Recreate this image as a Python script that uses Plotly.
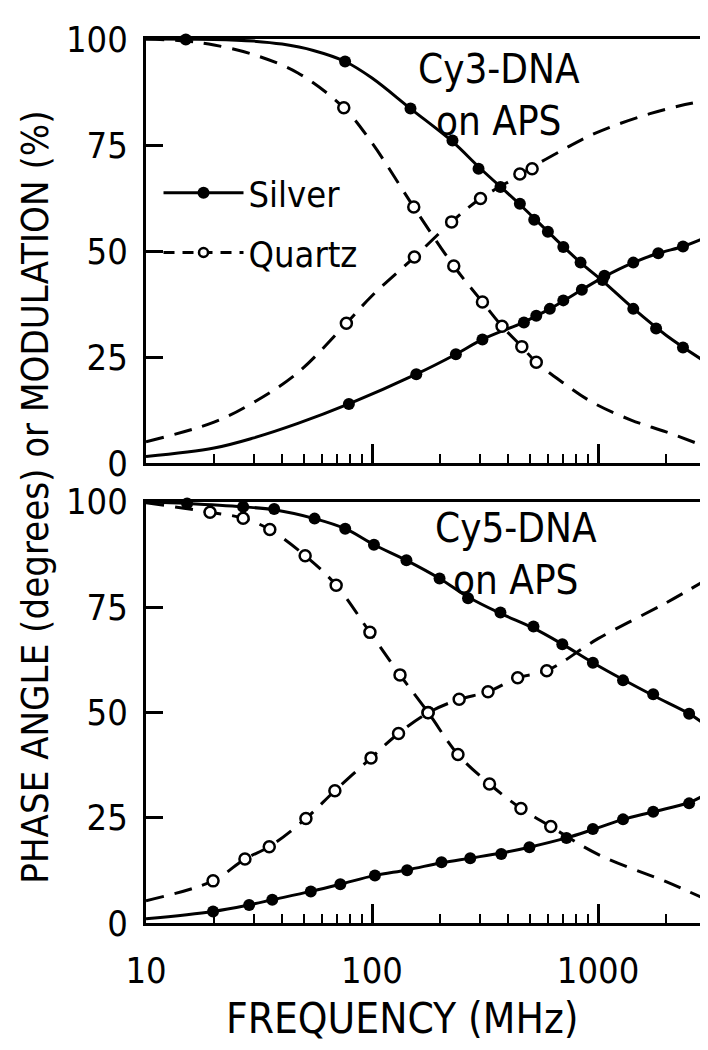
import plotly.graph_objects as go

# ---------------- data ----------------
tick_vals = [10, 100, 1000]
tick_text = ["10", "100", "1000"]
minor_vals = [20, 30, 40, 50, 60, 70, 80, 90, 200, 300, 400, 500, 600, 700, 800, 900, 2000]
y_ticks = [0, 25, 50, 75, 100]

# Top panel: Cy3-DNA on APS
cy3_silver_mod_f = [15, 76, 148, 227, 296, 370, 451, 522, 600, 702, 837, 1047, 1432, 1807, 2376]
cy3_silver_mod_v = [99.9, 94.7, 83.6, 76.1, 69.4, 65.1, 61.2, 57.4, 54.6, 51.0, 47.3, 43.2, 36.4, 31.8, 27.3]
cy3_silver_mod_cf = [10, 20, 30, 40, 55, 76, 100, 148, 227, 300, 451, 600, 837, 1047, 1432, 2000, 2870]
cy3_silver_mod_cv = [100, 99.9, 99.5, 98.8, 97.3, 94.7, 90.8, 83.6, 75.8, 69.6, 61.0, 54.6, 47.3, 43.0, 36.5, 30.2, 24.5]

cy3_silver_ph_f = [79, 157, 235, 308, 470, 533, 612, 702, 848, 1067, 1432, 1847, 2376]
cy3_silver_ph_v = [14.0, 21.0, 25.7, 29.2, 33.2, 34.8, 36.4, 38.4, 40.9, 44.2, 47.3, 49.5, 51.1]
cy3_silver_ph_cf = [10, 20, 30, 47, 79, 157, 235, 308, 470, 612, 848, 1067, 1432, 1847, 2376, 2870]
cy3_silver_ph_cv = [1.6, 3.6, 6.0, 9.4, 14.0, 21.0, 25.7, 29.2, 33.3, 36.4, 40.9, 44.0, 47.3, 49.5, 51.1, 52.8]

cy3_quartz_mod_f = [75, 153, 230, 308, 376, 460, 533]
cy3_quartz_mod_v = [83.8, 60.4, 46.5, 38.0, 32.3, 27.5, 23.8]
cy3_quartz_mod_cf = [10, 15, 20, 30, 47, 75, 100, 153, 230, 308, 376, 460, 533, 700, 942, 1400, 2000, 2870]
cy3_quartz_mod_cv = [100, 99.5, 98.6, 96.3, 92.0, 83.8, 75.5, 60.4, 46.5, 38.0, 32.3, 27.5, 23.8, 19.0, 14.4, 10.2, 7.4, 4.3]

cy3_quartz_ph_f = [77, 154, 225, 302, 451, 511]
cy3_quartz_ph_v = [33.0, 48.6, 56.9, 62.4, 68.2, 69.4]
cy3_quartz_ph_cf = [10, 20, 30, 47, 77, 100, 154, 225, 302, 451, 511, 700, 902, 1211, 1698, 2277, 2870]
cy3_quartz_ph_cv = [5.1, 9.7, 14.4, 21.4, 33.0, 39.5, 48.6, 56.9, 62.4, 67.9, 69.8, 73.9, 77.0, 79.8, 82.4, 84.2, 85.3]

# Bottom panel: Cy5-DNA on APS
cy5_silver_mod_f = [15.2, 26.9, 36.9, 55.7, 76.1, 102, 142, 199, 266, 370, 518, 695, 949, 1290, 1754, 2529]
cy5_silver_mod_v = [99.6, 98.8, 98.3, 96.0, 93.6, 89.8, 86.1, 81.8, 77.1, 73.7, 70.4, 66.2, 61.8, 57.6, 54.3, 49.7]
cy5_silver_mod_cf = [10, 15.2, 26.9, 36.9, 55.7, 76.1, 102, 142, 199, 266, 370, 518, 695, 949, 1290, 1754, 2529, 2870]
cy5_silver_mod_cv = [100, 99.6, 98.8, 98.1, 96.0, 93.6, 89.8, 86.1, 81.8, 77.4, 73.5, 70.0, 66.2, 61.8, 57.8, 54.0, 49.7, 47.7]

cy5_silver_ph_f = [19.8, 28.6, 36.2, 53.6, 72.4, 103, 143, 203, 272, 373, 497, 725, 949, 1290, 1754, 2529]
cy5_silver_ph_v = [2.75, 4.3, 5.5, 7.5, 9.2, 11.3, 12.5, 14.4, 15.4, 16.4, 18.0, 20.2, 22.3, 24.6, 26.4, 28.4]
cy5_silver_ph_cf = [10, 19.8, 28.6, 36.2, 53.6, 72.4, 103, 143, 203, 272, 373, 497, 725, 949, 1290, 1754, 2529, 2870]
cy5_silver_ph_cv = [1.0, 2.75, 4.3, 5.5, 7.5, 9.2, 11.3, 12.6, 14.3, 15.4, 16.6, 18.0, 20.2, 22.2, 24.6, 26.4, 28.6, 30.0]

cy5_quartz_mod_f = [19.2, 26.9, 35.3, 50.6, 69.4, 97.9, 133, 177, 240, 331, 456, 618]
cy5_quartz_mod_v = [97.5, 96.1, 93.4, 87.2, 80.2, 69.0, 58.9, 50.0, 40.0, 33.0, 27.2, 22.9]
cy5_quartz_mod_cf = [10, 19.2, 26.9, 35.3, 50.6, 69.4, 97.9, 133, 177, 240, 331, 456, 618, 1000, 2000, 2870]
cy5_quartz_mod_cv = [99.8, 97.5, 96.1, 93.4, 87.2, 80.2, 69.0, 58.9, 50.0, 40.0, 33.0, 27.2, 22.9, 16.3, 9.8, 6.1]

cy5_quartz_ph_f = [19.8, 27.4, 35.1, 51, 68.5, 99, 131, 177, 243, 326, 441, 593]
cy5_quartz_ph_v = [10.0, 15.2, 18.1, 24.8, 31.4, 39.2, 45.0, 49.9, 53.1, 54.9, 58.2, 59.9]
cy5_quartz_ph_cf = [10, 19.8, 27.4, 35.1, 51, 68.5, 99, 131, 177, 243, 326, 441, 593, 1000, 2000, 2870]
cy5_quartz_ph_cv = [5.3, 10.0, 15.2, 18.1, 24.8, 31.4, 39.2, 45.0, 49.9, 53.1, 54.9, 58.2, 59.9, 67.5, 76.0, 80.8]

legend_names = ["Silver", "Quartz"]
panel_labels = ["Cy3-DNA<br>on APS", "Cy5-DNA<br>on APS"]
x_title = "FREQUENCY (MHz)"
y_title = "PHASE ANGLE (degrees) or MODULATION (%)"

# ---------------- styling ----------------
FONT = "Liberation Sans Narrow, DejaVu Sans Condensed, Roboto Condensed, Liberation Sans, Arial, sans-serif"
BLACK = "#000000"
LW = 3
DASH = "18px,11px"

fig = go.Figure()

def add_series(xa, ya, cf, cv, pf, pv, solid):
    fig.add_trace(go.Scatter(
        x=cf, y=cv, mode="lines", xaxis=xa, yaxis=ya, showlegend=False,
        line=dict(color=BLACK, width=LW, dash="solid" if solid else DASH, shape="spline", smoothing=1.0),
        hoverinfo="skip"))
    if solid:
        marker = dict(symbol="circle", size=12, color=BLACK, line=dict(width=0))
    else:
        marker = dict(symbol="circle", size=11, color="white", line=dict(color=BLACK, width=2.5))
    fig.add_trace(go.Scatter(
        x=pf, y=pv, mode="markers", xaxis=xa, yaxis=ya, showlegend=False,
        marker=marker, cliponaxis=False))

# top panel
add_series("x", "y", cy3_silver_mod_cf, cy3_silver_mod_cv, cy3_silver_mod_f, cy3_silver_mod_v, True)
add_series("x", "y", cy3_silver_ph_cf, cy3_silver_ph_cv, cy3_silver_ph_f, cy3_silver_ph_v, True)
add_series("x", "y", cy3_quartz_mod_cf, cy3_quartz_mod_cv, cy3_quartz_mod_f, cy3_quartz_mod_v, False)
add_series("x", "y", cy3_quartz_ph_cf, cy3_quartz_ph_cv, cy3_quartz_ph_f, cy3_quartz_ph_v, False)
# bottom panel
add_series("x2", "y2", cy5_silver_mod_cf, cy5_silver_mod_cv, cy5_silver_mod_f, cy5_silver_mod_v, True)
add_series("x2", "y2", cy5_silver_ph_cf, cy5_silver_ph_cv, cy5_silver_ph_f, cy5_silver_ph_v, True)
add_series("x2", "y2", cy5_quartz_mod_cf, cy5_quartz_mod_cv, cy5_quartz_mod_f, cy5_quartz_mod_v, False)
add_series("x2", "y2", cy5_quartz_ph_cf, cy5_quartz_ph_cv, cy5_quartz_ph_f, cy5_quartz_ph_v, False)

# legend-only entries
fig.add_trace(go.Scatter(x=[None], y=[None], mode="lines+markers", name=legend_names[0],
                         legendgroup="a", xaxis="x", yaxis="y",
                         line=dict(color=BLACK, width=LW),
                         marker=dict(size=12, color=BLACK)))
fig.add_trace(go.Scatter(x=[None], y=[None], mode="lines+markers", name=legend_names[1],
                         legendgroup="b", xaxis="x", yaxis="y",
                         line=dict(color=BLACK, width=LW, dash="11px,8px"),
                         marker=dict(size=9, color="white", line=dict(color=BLACK, width=2.5))))

xcommon = dict(type="log", range=[1, 3.46], showgrid=False, zeroline=False,
               showline=True, linecolor=BLACK, linewidth=LW, mirror=True,
               ticks="inside", tickvals=tick_vals, ticktext=tick_text,
               ticklen=19, tickwidth=2.5, tickcolor=BLACK,
               minor=dict(ticks="inside", tickvals=minor_vals, ticklen=9, tickwidth=2, tickcolor=BLACK),
               tickfont=dict(family=FONT, size=36, color=BLACK))
ycommon = dict(range=[0, 100], showgrid=False, zeroline=False,
               showline=True, linecolor=BLACK, linewidth=LW, mirror=True,
               ticks="inside", tickvals=y_ticks, ticklen=17, tickwidth=3, tickcolor=BLACK,
               tickfont=dict(family=FONT, size=36, color=BLACK), ticklabelstandoff=8)

fig.update_layout(
    width=708, height=1050,
    margin=dict(l=138, r=11, t=21, b=135),
    paper_bgcolor="white", plot_bgcolor="white",
    font=dict(family=FONT, color=BLACK, size=36),
    xaxis=dict(**xcommon, domain=[0, 1], anchor="y", showticklabels=False),
    xaxis2=dict(**xcommon, domain=[0, 1], anchor="y2", showticklabels=True, ticklabelstandoff=14),
    yaxis=dict(**ycommon, domain=[0.520, 1.0], anchor="x"),
    yaxis2=dict(**ycommon, domain=[0.0, 0.4765], anchor="x2"),
    showlegend=True,
    legend=dict(x=0.0225, y=0.86, xanchor="left", yanchor="top",
                bgcolor="rgba(0,0,0,0)", borderwidth=0,
                font=dict(family=FONT, size=36, color=BLACK),
                itemwidth=80, tracegroupgap=10, traceorder="grouped"),
    annotations=[
        dict(text=panel_labels[0], xref="paper", yref="paper", x=0.635, y=0.937,
             xanchor="center", yanchor="middle", showarrow=False,
             font=dict(family=FONT, size=40, color=BLACK)),
        dict(text=panel_labels[1], xref="paper", yref="paper", x=0.665, y=0.417,
             xanchor="center", yanchor="middle", showarrow=False,
             font=dict(family=FONT, size=40, color=BLACK)),
        dict(text=y_title, xref="paper", yref="paper", x=-0.2, y=0.482,
             xanchor="center", yanchor="middle", textangle=-90, showarrow=False,
             font=dict(family=FONT, size=38, color=BLACK)),
        dict(text=x_title, xref="paper", yref="paper", x=0.46, y=-0.1085,
             xanchor="center", yanchor="middle", showarrow=False,
             font=dict(family=FONT, size=42, color=BLACK)),
    ],
)

fig.write_html("out.html")
